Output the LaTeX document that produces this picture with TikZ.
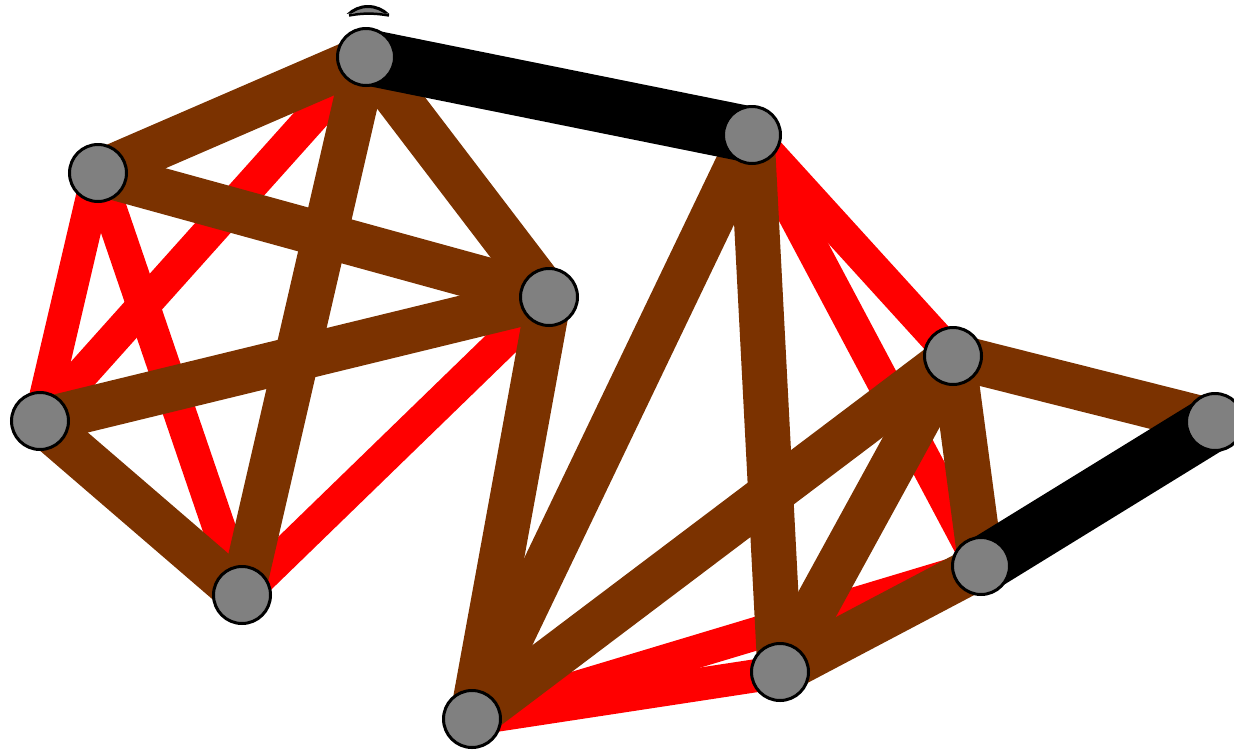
\documentclass[tikz,border=0pt]{standalone}
\usepackage{xcolor}
\usepackage{tikz}
\usetikzlibrary{positioning, backgrounds}
\definecolor{edgebrown}{RGB}{123,50,0}
\definecolor{edgered}{RGB}{255,0,0}
\definecolor{nodegray}{RGB}{128,128,128}
\tikzset{
    vertex/.style={circle, draw=black, fill=nodegray, line width=3pt,
                   minimum size=57pt, inner sep=0pt},
    redlink/.style={edgered, line width=33pt, line cap=round},
    brownlink/.style={edgebrown, line width=45pt, line cap=round},
    blacklink/.style={black, line width=56pt, line cap=round}
}

\begin{document}
\begin{tikzpicture}[x=1pt, y=-1pt]
    \useasboundingbox (0,0) rectangle (1234,750);

    % Vertices
    \node[vertex] (a) at (366,57) {};
    \node[vertex] (b) at (98,173) {};
    \node[vertex] (c) at (549,297) {};
    \node[vertex] (d) at (40,421) {};
    \node[vertex] (e) at (242,595) {};
    \node[vertex] (f) at (752,135) {};
    \node[vertex] (g) at (953,356) {};
    \node[vertex] (h) at (1215,422) {};
    \node[vertex] (i) at (981,566) {};
    \node[vertex] (j) at (780,672) {};
    \node[vertex] (k) at (472,719) {};

    % Partly hidden disc above a
    \begin{scope}
        \clip (330,0) -- (410,0) -- (410,16) .. controls (380,12) and (356,12) .. (326,16) -- cycle;
        \draw[fill=nodegray, line width=3pt] (368,35) circle[radius=28.5];
    \end{scope}
    \draw[line width=2.5pt] (349,15.5) .. controls (362,13) and (375,13) .. (389,15.5);

    \begin{scope}[on background layer]
        % Red links
        \draw[redlink] (a.center) -- (d.center);
        \draw[redlink] (b.center) -- (d.center);
        \draw[redlink] (b.center) -- (e.center);
        \draw[redlink] (c.center) -- (e.center);
        \draw[redlink] (f.center) -- (g.center);
        \draw[redlink] (f.center) -- (i.center);
        \draw[redlink] (k.center) -- (j.center);
        \draw[redlink] (k.center) -- (i.center);

        % Brown links
        \draw[brownlink] (a.center) -- (b.center);
        \draw[brownlink] (a.center) -- (c.center);
        \draw[brownlink] (a.center) -- (e.center);
        \draw[brownlink] (b.center) -- (c.center);
        \draw[brownlink] (d.center) -- (c.center);
        \draw[brownlink] (d.center) -- (e.center);
        \draw[brownlink] (c.center) -- (k.center);
        \draw[brownlink] (k.center) -- (f.center);
        \draw[brownlink] (f.center) -- (j.center);
        \draw[brownlink] (k.center) -- (g.center);
        \draw[brownlink] (g.center) -- (j.center);
        \draw[brownlink] (g.center) -- (h.center);
        \draw[brownlink] (g.center) -- (i.center);
        \draw[brownlink] (i.center) -- (j.center);

        % Black links
        \draw[blacklink] (a.center) -- (f.center);
        \draw[blacklink] (h.center) -- (i.center);
    \end{scope}
\end{tikzpicture}
\end{document}
